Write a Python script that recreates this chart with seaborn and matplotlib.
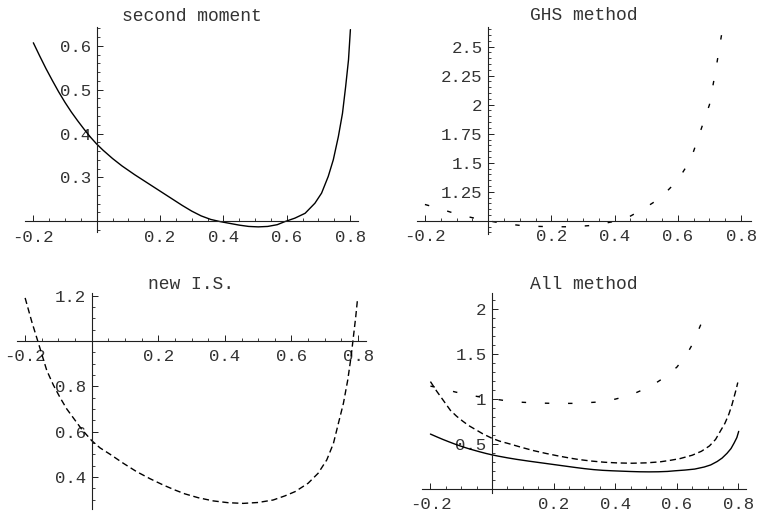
import matplotlib
matplotlib.use("Agg")
import matplotlib.pyplot as plt
import seaborn as sns
import pandas as pd
from matplotlib.ticker import FixedLocator, MultipleLocator, FixedFormatter

# ---- data ----
sm_x = [-0.2, -0.18, -0.16, -0.14, -0.12, -0.10, -0.08, -0.06, -0.04, -0.02, 0.0, 0.02, 0.05,
        0.08, 0.12, 0.15, 0.18, 0.21, 0.24, 0.27, 0.30, 0.33, 0.36, 0.39, 0.42, 0.45, 0.48,
        0.51, 0.54, 0.57, 0.594, 0.626, 0.658, 0.689, 0.71, 0.731, 0.747, 0.763, 0.776,
        0.786, 0.795, 0.801]
sm_y = [0.607, 0.577, 0.548, 0.521, 0.495, 0.471, 0.449, 0.429, 0.410, 0.392, 0.376, 0.362, 0.343,
        0.326, 0.306, 0.292, 0.278, 0.264, 0.250, 0.236, 0.223, 0.212, 0.204, 0.199, 0.195, 0.191, 0.188,
        0.187, 0.188, 0.192, 0.199, 0.207, 0.218, 0.241, 0.264, 0.302, 0.34, 0.393, 0.446,
        0.507, 0.568, 0.637]

ghs_x = [-0.2, -0.16, -0.12, -0.08, -0.04, 0.0, 0.05, 0.1, 0.15, 0.2, 0.27, 0.34, 0.4, 0.45,
         0.49, 0.53, 0.557, 0.6, 0.63, 0.65, 0.68, 0.7, 0.72, 0.735, 0.74]
ghs_y = [1.14, 1.11, 1.075, 1.045, 1.02, 1.0, 0.975, 0.96, 0.952, 0.948, 0.948, 0.962, 0.995, 1.04,
         1.10, 1.17, 1.23, 1.35, 1.48, 1.6, 1.84, 2.0, 2.3, 2.55, 2.63]

nis_x = [-0.2, -0.18, -0.16, -0.135, -0.115, -0.095, -0.075, -0.055, -0.03, 0.0, 0.025, 0.055,
         0.095, 0.135, 0.175, 0.215, 0.25, 0.28, 0.32, 0.365, 0.41, 0.455, 0.5, 0.545, 0.58,
         0.611, 0.65, 0.68, 0.706, 0.726, 0.741, 0.756, 0.769, 0.779, 0.786, 0.793, 0.798]
nis_y = [1.19, 1.085, 0.99, 0.87, 0.805, 0.75, 0.70, 0.66, 0.61, 0.56, 0.528, 0.50,
         0.46, 0.423, 0.392, 0.364, 0.342, 0.325, 0.308, 0.294, 0.286, 0.283, 0.287, 0.298, 0.316,
         0.335, 0.372, 0.416, 0.475, 0.548, 0.637, 0.725, 0.828, 0.931, 1.019, 1.107, 1.18]

titles = ["second moment", "GHS method", "new I.S.", "All method"]
x_major = [-0.2, 0.2, 0.4, 0.6, 0.8]
x_labels = ["-0.2", "0.2", "0.4", "0.6", "0.8"]
y_major = [[0.3, 0.4, 0.5, 0.6], [1.25, 1.5, 1.75, 2, 2.25, 2.5], [0.4, 0.6, 0.8, 1.2], [0.5, 1, 1.5, 2]]
y_labels = [["0.3", "0.4", "0.5", "0.6"], ["1.25", "1.5", "1.75", "2", "2.25", "2.5"],
            ["0.4", "0.6", "0.8", "1.2"], ["0.5", "1", "1.5", "2"]]

# ---- styling ----
W, H = 759, 513
sns.set_theme(style="white")
plt.rcParams["font.family"] = ["Liberation Mono", "DejaVu Sans"]
plt.rcParams["axes.unicode_minus"] = False

fig = plt.figure(figsize=(W / 100, H / 100), dpi=100)
TXT = "#333333"
AX = "#202020"

# pixel boxes (left, right, top, bottom), limits, axis crossing, minor step
cfg = [
    dict(box=(25.1, 358.0, 27.0, 231.7), xlim=(-0.226, 0.825), ylim=(0.176, 0.643), cross=0.2, ymin=0.02,
         title_xy=(191.5, 16.5)),
    dict(box=(416.7, 751.2, 26.7, 233.5), xlim=(-0.226, 0.832), ylim=(0.89, 2.672), cross=1.0, ymin=0.05,
         title_xy=(584, 15.5)),
    dict(box=(16.8, 366.4, 293.4, 508.6), xlim=(-0.225, 0.825), ylim=(0.26, 1.21), cross=1.0, ymin=0.05,
         title_xy=(191.5, 284.5)),
    dict(box=(421.5, 746.4, 293.4, 493.2), xlim=(-0.229, 0.826), ylim=(-0.05, 2.17), cross=0.0, ymin=0.1,
         title_xy=(584, 284.5)),
]

NIS_DASH = (0, (4.5, 2.6))
GHS_DASH = (0, (3.2, 13.5))
LW = 1.0

axes = []
for i, c in enumerate(cfg):
    l, r, t, b = c["box"]
    ax = fig.add_axes([l / W, 1 - b / H, (r - l) / W, (b - t) / H])
    ax.set_facecolor("none")
    ax.set_xlim(*c["xlim"])
    ax.set_ylim(*c["ylim"])
    for s in ("top", "right"):
        ax.spines[s].set_visible(False)
    ax.spines["left"].set_position(("data", 0))
    ax.spines["bottom"].set_position(("data", c["cross"]))
    for s in ("left", "bottom"):
        ax.spines[s].set_color(AX)
        ax.spines[s].set_linewidth(0.8)
    ax.xaxis.set_major_locator(FixedLocator(x_major))
    ax.xaxis.set_major_formatter(FixedFormatter(x_labels))
    ax.xaxis.set_minor_locator(MultipleLocator(0.05))
    ax.yaxis.set_major_locator(FixedLocator(y_major[i]))
    ax.yaxis.set_major_formatter(FixedFormatter(y_labels[i]))
    ax.yaxis.set_minor_locator(MultipleLocator(c["ymin"]))
    ax.tick_params(axis="both", which="major", direction="in", length=4, width=0.7, color=AX,
                   labelsize=12.5, labelcolor=TXT, bottom=True, left=True)
    ax.tick_params(axis="both", which="minor", direction="in", length=2.2, width=0.6, color=AX,
                   bottom=True, left=True)
    ax.tick_params(axis="x", which="major", pad=6)
    ax.tick_params(axis="y", which="major", pad=4)
    ax.grid(False)
    fig.text(c["title_xy"][0] / W, 1 - c["title_xy"][1] / H, titles[i], ha="center", va="center",
             fontsize=13, color=TXT)
    axes.append(ax)

df_sm = pd.DataFrame({"x": sm_x, "y": sm_y})
df_ghs = pd.DataFrame({"x": ghs_x, "y": ghs_y})
df_nis = pd.DataFrame({"x": nis_x, "y": nis_y})

kw = dict(x="x", y="y", estimator=None, sort=False, color="black", linewidth=LW)

sns.lineplot(data=df_sm, ax=axes[0], **kw)
sns.lineplot(data=df_ghs, ax=axes[1], linestyle=GHS_DASH, **kw)
sns.lineplot(data=df_nis, ax=axes[2], linestyle=NIS_DASH, **kw)

sns.lineplot(data=df_sm, ax=axes[3], **kw)
sns.lineplot(data=df_nis, ax=axes[3], linestyle=NIS_DASH, **kw)
sns.lineplot(data=df_ghs[df_ghs["y"] <= 2.0], ax=axes[3], linestyle=GHS_DASH, **kw)

for ax in axes:
    ax.set_xlabel("")
    ax.set_ylabel("")
    for ln in ax.get_lines():
        ln.set_clip_on(True)

fig.savefig("out.png", dpi=100)
